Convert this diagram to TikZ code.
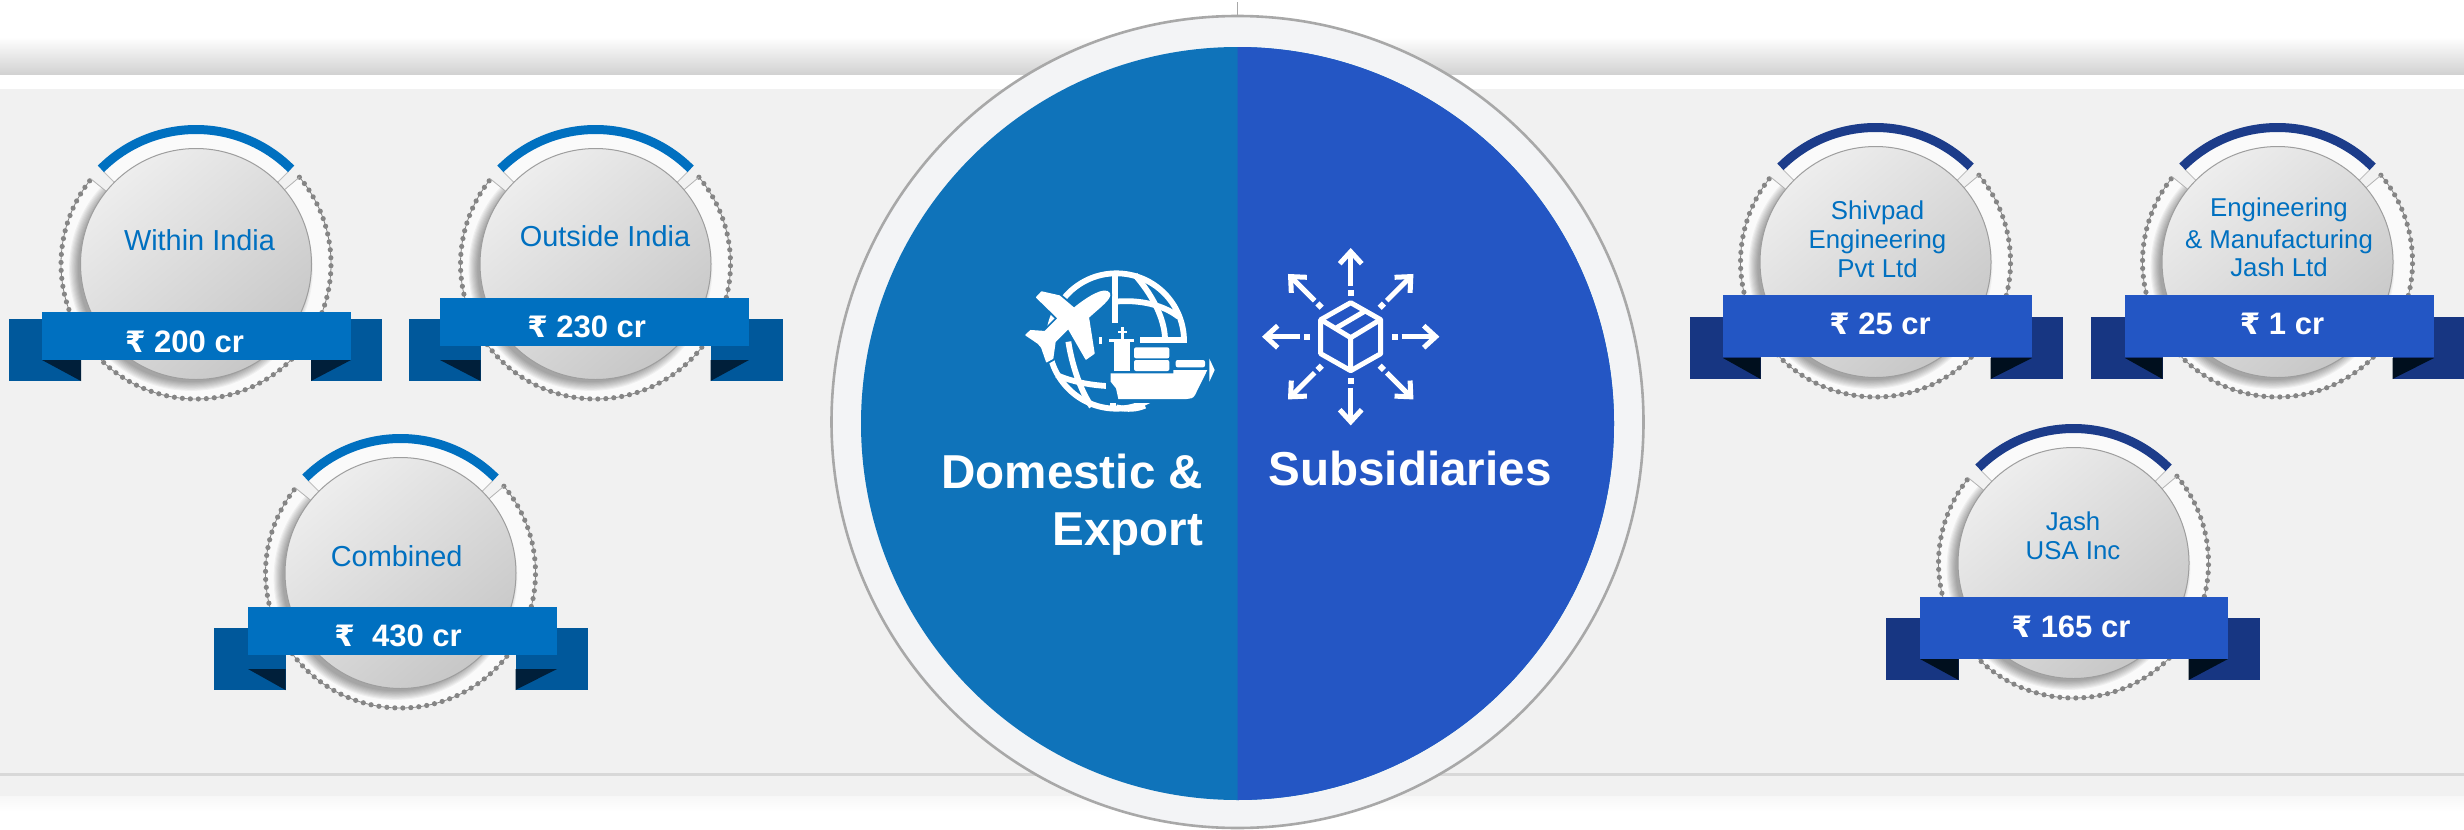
\documentclass[tikz,border=0pt]{standalone}
\usepackage{fontspec}
\setmainfont{Liberation Sans}
\newfontfamily\rupfont[Scale=0.95]{DejaVu Sans}
\newcommand\rup{{\rupfont ₹}}
\definecolor{pageg}{HTML}{F1F1F1}
\definecolor{lineg}{HTML}{D8D8D8}
\definecolor{bandg}{HTML}{D2D2D2}
\definecolor{leftblue}{HTML}{0F73BA}
\definecolor{rightblue}{HTML}{2456C4}
\definecolor{discrim}{HTML}{F3F4F6}
\definecolor{discedge}{HTML}{A8A8A8}
\definecolor{labelblue}{HTML}{0070C0}
\definecolor{ringw}{HTML}{FAFAFA}
\definecolor{dotg}{HTML}{858585}
\tikzset{
  labeltext/.style={text=labelblue,font=\fontsize{14.45}{14.3}\selectfont,inner sep=0pt,anchor=base,align=center},
  labelsmall/.style={text=labelblue,font=\fontsize{12.9}{14.3}\selectfont,inner sep=0pt,anchor=base,align=center},
  amount/.style={text=white,font=\bfseries\fontsize{15.5}{18}\selectfont,inner sep=0pt,anchor=base},
  headline/.style={text=white,font=\bfseries\fontsize{23.8}{28.5}\selectfont,inner sep=0pt},
  inkline/.style={white,line width=2.9pt},
  boxline/.style={white,line width=2.5pt,line join=round},
}
% #1 cx, #2 cy, #3 ribbon x1, #4 ribbon x2, #5 ribbon y1, #6 ribbon y2, #7 tail x1, #8 tail x2
\newcommand\medal[8]{%
  % lower ring
  \fill[ringw] (#1,#2) -- ([shift={(-40:135)}]#1,#2) arc[start angle=-40,end angle=219,radius=135] -- cycle;
  \begin{scope}
    \clip (#1,#2) -- ([shift={(-40:135)}]#1,#2) arc[start angle=-40,end angle=219,radius=135] -- cycle;
    \foreach \s in {1,...,9}{\fill[black,opacity=.045] (#1-5,#2+5) circle[radius=112+\s*1.1];}
  \end{scope}
  \draw[dotg,line width=.4pt] ([shift={(-40:135)}]#1,#2) arc[start angle=-40,end angle=219,radius=135];
  \draw[dotg,line width=2.6pt,line cap=round,dash pattern=on 0pt off 4pt] ([shift={(-40:135)}]#1,#2) arc[start angle=-40,end angle=219,radius=135];
  \draw[black!30,line width=.4pt] ([shift={(-40:113)}]#1,#2) -- ([shift={(-40:135)}]#1,#2);
  \draw[black!30,line width=.4pt] ([shift={(219:113)}]#1,#2) -- ([shift={(219:135)}]#1,#2);
  % top wedge
  \fill[ringw] (#1,#2) -- ([shift={(-135:135)}]#1,#2) arc[start angle=-135,end angle=-45,radius=135] -- cycle;
  \draw[black!25,line width=.4pt] ([shift={(-135:113)}]#1,#2) -- ([shift={(-135:131)}]#1,#2);
  \draw[black!25,line width=.4pt] ([shift={(-45:113)}]#1,#2) -- ([shift={(-45:131)}]#1,#2);
  \draw[arccol,line width=4.5pt] ([shift={(-135:134.5)}]#1,#2) arc[start angle=-135,end angle=-45,radius=134.5];
  % disc
  \shade[top color=black!7,bottom color=black!22,shading angle=40] (#1,#2) circle[radius=115.5];
  \draw[black!38,line width=.5pt] (#1,#2) circle[radius=115.5];
  % ribbon
  \fill[tailcol] (#7,#2+55) rectangle (#1-115,#2+117);
  \fill[tailcol] (#1+115,#2+55) rectangle (#8,#2+117);
  \fill[foldcol] (#3,#2+96) -- (#1-115,#2+96) -- (#1-115,#2+117) -- cycle;
  \fill[foldcol] (#4,#2+96) -- (#1+115,#2+96) -- (#1+115,#2+117) -- cycle;
  \fill[ribcol] (#3,#5) rectangle (#4,#6);
}
\newcommand\leftscheme{\colorlet{arccol}{labelblue}\colorlet{ribcol}{labelblue}\definecolor{tailcol}{HTML}{00589B}\definecolor{foldcol}{HTML}{001F3A}}
\newcommand\rightscheme{\definecolor{arccol}{HTML}{1C3C8A}\definecolor{ribcol}{HTML}{2356C4}\definecolor{tailcol}{HTML}{173682}\definecolor{foldcol}{HTML}{000F1E}}
\newcommand\planepath{(328,100) .. controls (315,80) and (265,110) .. (222,145)
    -- (178,108) -- (125,96) -- (110,112) -- (175,175) -- (135,215) -- (92,212) -- (78,225) -- (115,250)
    -- (125,262) -- (140,305) -- (158,295) -- (165,245) -- (205,205) -- (258,297) -- (282,280) -- (265,172)
    .. controls (300,140) and (335,115) .. (328,100) -- cycle}
\begin{document}
\begin{tikzpicture}[x=0.5pt,y=-0.5pt]
\useasboundingbox (0,0) rectangle (2464,830);
\fill[white] (0,0) rectangle (2464,830);
% bands
\shade[top color=white,bottom color=bandg] (0,37) rectangle (2464,74);
\fill[pageg] (0,89) rectangle (2464,796);
\fill[lineg] (0,773) rectangle (2464,776);
\shade[top color=black!3,bottom color=white] (0,796) rectangle (2464,811);
% medals
\leftscheme
\medal{196}{264}{42}{351}{312}{360}{9}{382}
\medal{595.5}{264}{440}{749}{298}{346}{409}{783}
\medal{400.5}{573}{248}{557}{607}{655}{214}{588}
\rightscheme
\medal{1875.5}{262}{1723}{2032}{295}{357}{1690}{2063}
\medal{2277.5}{262}{2125}{2434}{295}{357}{2091}{2464}
\medal{2073.5}{563}{1920}{2228}{597}{659}{1886}{2260}
% central disc
\draw[discedge,line width=.6pt] (1237.5,2) -- (1237.5,16);
\fill[discrim] (1237.5,422) circle[radius=406];
\draw[discedge,line width=1.3pt] (1237.5,422) circle[radius=406];
\fill[leftblue] (1237.5,423.5) circle[radius=376.5];
\fill[rightblue] (1237.5,47) arc[start angle=-90,end angle=90,radius=376.5] -- cycle;
% globe, plane and ship icon
\begin{scope}[shift={(1000,260)},x=0.16667pt,y=-0.16667pt]
  \draw[inkline] (349,243) circle[radius=203];
  \draw[inkline] (345,40) -- (345,235);
  \draw[inkline] (405,45) .. controls (470,120) and (495,190) .. (495,240);
  \draw[inkline] (345,125) .. controls (420,118) and (490,135) .. (535,170);
  \draw[inkline] (420,240) -- (555,240);
  \draw[inkline] (205,245) .. controls (215,310) and (240,390) .. (275,440);
  \draw[inkline] (170,345) .. controls (215,365) and (270,375) .. (320,378);
  \draw[inkline] (340,395) -- (340,450);
  \fill[leftblue] (318,250) rectangle (640,430);
  \path[draw=leftblue,line width=2.6pt,line join=round] \planepath;
  \path[fill=white,draw=white,line width=.7pt,line join=round] \planepath;
  \fill[leftblue] (318,190) rectangle (410,250);
  \fill[white] (332,340) -- (520,340) -- (520,330) -- (622,330) -- (585,405) .. controls (580,415) and (570,417) .. (560,417) -- (355,417) -- (348,385) -- (332,365) -- cycle;
  \fill[white] (342,245) rectangle (390,333);
  \fill[white] (328,236) rectangle (402,246);
  \fill[white] (364,200) rectangle (372,238);
  \fill[white] (354,213) rectangle (382,219);
  \fill[white,rounded corners=1pt] (402,262) rectangle (508,295);
  \fill[white,rounded corners=1pt] (402,300) rectangle (508,333);
  \fill[white,rounded corners=1pt] (527,300) rectangle (615,322);
  \fill[white] (628,296) -- (644,330) -- (628,365) -- cycle;
  \fill[white] (298,232) rectangle (306,252);
  % globe below the hull
  \draw[inkline] (349,442) .. controls (385,450) and (410,447) .. (435,437);
\end{scope}
% box with arrows icon
\begin{scope}[shift={(1350.7,336.7)}]
  \foreach \a in {0,45,...,315}{
    \begin{scope}[rotate=\a]
      \draw[white,line width=2.5pt] (51,0) -- (84,0);
      \draw[white,line width=2.5pt,miter limit=10] (73,-11) -- (85,0) -- (73,11);
      \fill[white] (41,-2.9) rectangle (47,2.9);
    \end{scope}
  }
  \draw[boxline] (0,-34) -- (30,-17) -- (30,17) -- (0,34) -- (-30,17) -- (-30,-17) -- cycle;
  \draw[boxline] (-28,-16) -- (0,1) -- (28,-16) (0,1) -- (0,33);
  \draw[boxline] (-14,-9) -- (15,-26);
\end{scope}
% texts
\node[headline,anchor=base east,align=right] (domestic) at (1203.5,545) {Domestic \&\\Export};
\node[headline,anchor=base west] (subsidiaries) at (1268,485.7) {Subsidiaries};
\node[labeltext] (within) at (199.5,250.7) {Within India};
\node[labeltext] (outside) at (605,246.7) {Outside India};
\node[labeltext] (combined) at (396.7,566) {Combined};
\node[labelsmall] (shivpad) at (1877.5,277) {Shivpad\\Engineering\\Pvt Ltd};
\node[labelsmall] (engineering) at (2279,276.7) {Engineering\\[1.7pt]\& Manufacturing\\Jash Ltd};
\node[labelsmall] (jash) at (2073,559.3) {Jash\\USA Inc};
\node[amount] (a200) at (184.5,352.7) {\rup\ 200 cr};
\node[amount] (a230) at (586.7,337.3) {\rup\ 230 cr};
\node[amount] (a430) at (398,646.7) {\rup\ \ 430 cr};
\node[amount] (a25) at (1880,334.3) {\rup\ 25 cr};
\node[amount] (a1) at (2282,334.3) {\rup\ 1 cr};
\node[amount] (a165) at (2071,637.3) {\rup\ 165 cr};
\end{tikzpicture}
\end{document}
